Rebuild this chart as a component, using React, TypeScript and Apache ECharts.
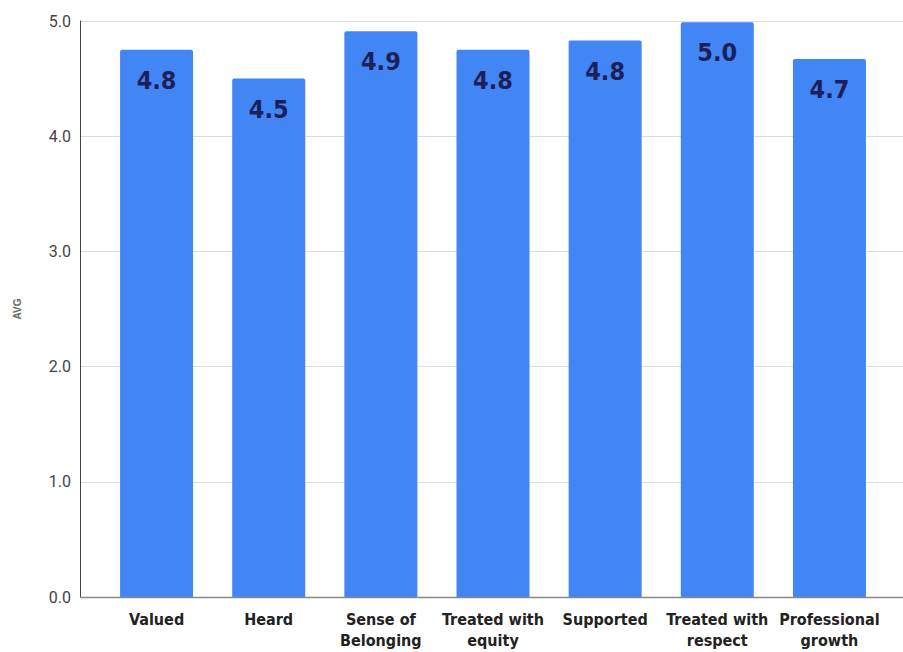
import React, { useEffect, useRef } from "react";
import * as echarts from "echarts";

const categories = [
  "Valued",
  "Heard",
  "Sense of\nBelonging",
  "Treated with\nequity",
  "Supported",
  "Treated with\nrespect",
  "Professional\ngrowth",
];
const avgValues = [4.75, 4.5, 4.91, 4.75, 4.83, 4.99, 4.67];
const yTicks = [0, 1, 2, 3, 4, 5];

export default function App() {
  const ref = useRef<HTMLDivElement>(null);
  useEffect(() => {
    document.body.style.margin = "0";
    const chart = echarts.init(ref.current!, undefined, { renderer: "svg" });
    const yMax = yTicks[yTicks.length - 1];
    chart.setOption({
      animation: false,
      backgroundColor: "#ffffff",
      grid: [
        { left: 80, right: 0, top: 21, bottom: 55 },
        { left: 100.5, right: 17.5, top: 21, bottom: 55 },
      ],
      xAxis: [
        {
          type: "category",
          gridIndex: 0,
          data: categories,
          show: false,
        },
        {
          type: "category",
          gridIndex: 1,
          data: categories,
          axisTick: { show: false },
          axisLine: { show: false },
          axisLabel: {
            color: "#222",
            fontWeight: "bold",
            fontSize: 16,
            lineHeight: 21,
            margin: 12,
            interval: 0,
            fontFamily: "'DejaVu Sans Condensed', 'DejaVu Sans', sans-serif",
          },
        },
      ],
      yAxis: [
        {
          type: "value",
          gridIndex: 0,
          min: 0,
          max: yMax,
          interval: 1,
          name: "AVG",
          nameLocation: "middle",
          nameGap: 58,
          nameTextStyle: {
            color: "#666",
            fontSize: 10,
            fontWeight: "bold",
            fontFamily: "'Liberation Sans', Arial, sans-serif",
          },
          axisLine: { show: true, lineStyle: { color: "#444", width: 1 } },
          axisTick: { show: false },
          splitLine: { lineStyle: { color: "#dcdcdc", width: 1 } },
          axisLabel: {
            color: "#444",
            fontSize: 16,
            margin: 9,
            fontFamily: "Roboto, sans-serif",
            formatter: (v: number) => v.toFixed(1),
          },
        },
        {
          type: "value",
          gridIndex: 1,
          min: 0,
          max: yMax,
          interval: 1,
          show: false,
          splitLine: { show: false },
        },
      ],
      graphic: [
        {
          type: "line",
          shape: { x1: 80, y1: 597.5, x2: 903, y2: 597.5 },
          style: { stroke: "#888", lineWidth: 1.5 },
          z: 10,
        },
      ],
      series: [
        {
          type: "bar",
          xAxisIndex: 1,
          yAxisIndex: 1,
          data: avgValues,
          barWidth: 73,
          itemStyle: { color: "#4285F4", borderRadius: [2, 2, 0, 0] },
          label: {
            show: true,
            position: "insideTop",
            distance: 18,
            color: "#1b1f5a",
            fontSize: 25,
            fontWeight: "bold",
            fontFamily: "'DejaVu Sans Condensed', 'DejaVu Sans', sans-serif",
            formatter: (p: any) => Number(p.value).toFixed(1),
          },
        },
      ],
    });
    return () => chart.dispose();
  }, []);
  return <div ref={ref} style={{ width: 903, height: 652 }} />;
}
